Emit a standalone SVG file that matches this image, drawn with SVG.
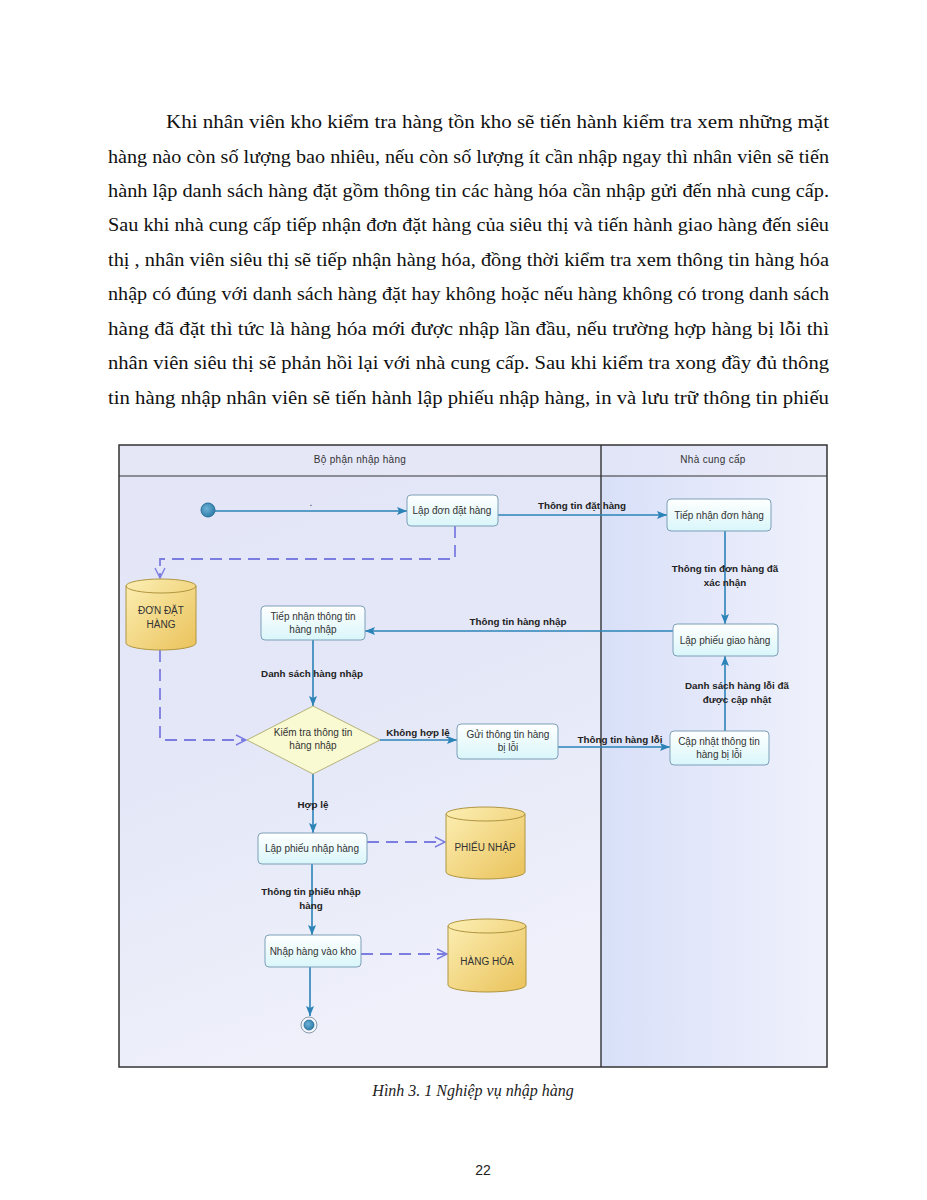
<svg xmlns="http://www.w3.org/2000/svg" width="927" height="1200" viewBox="0 0 927 1200">
<style>
.body{font-family:"Liberation Serif","Times New Roman",serif;font-size:19.5px;fill:#111}
.cap{font-family:"Liberation Serif","Times New Roman",serif;font-size:16px;font-style:italic;fill:#222}
.pg{font-family:"Liberation Sans",Arial,sans-serif;font-size:14px;fill:#222}
.hdr{font-family:"Liberation Sans",Arial,sans-serif;font-size:10px;fill:#333;letter-spacing:0.3px}
.nt{font-family:"Liberation Sans",Arial,sans-serif;font-size:10px;fill:#333;text-anchor:middle}
.lb{font-family:"Liberation Sans",Arial,sans-serif;font-size:9.8px;font-weight:bold;fill:#222;text-anchor:middle}
.box{fill:url(#boxg);stroke:#7d9fb8;stroke-width:1}
.cyl{fill:url(#cylg);stroke:#b09540;stroke-width:1}
.flow{fill:none;stroke:#2b83b8;stroke-width:1.6;marker-end:url(#arr)}
.dep{fill:none;stroke:#7c7de0;stroke-width:1.8;stroke-dasharray:12 7;marker-end:url(#open)}
</style>
<defs>
<linearGradient id="leftg" x1="0" y1="0" x2="0.3" y2="1">
<stop offset="0" stop-color="#e4e6f7"/><stop offset="0.5" stop-color="#e3e7f7"/><stop offset="1" stop-color="#eff0fa"/>
</linearGradient>
<linearGradient id="rightg" x1="0" y1="0" x2="1" y2="0">
<stop offset="0" stop-color="#d8e0f8"/><stop offset="0.5" stop-color="#e4e8fa"/><stop offset="1" stop-color="#eff1fb"/>
</linearGradient>
<linearGradient id="boxg" x1="0" y1="0" x2="0" y2="1">
<stop offset="0" stop-color="#ffffff"/><stop offset="1" stop-color="#d9f6fa"/>
</linearGradient>
<linearGradient id="cylg" x1="0" y1="0" x2="1" y2="1">
<stop offset="0" stop-color="#fcefb4"/><stop offset="1" stop-color="#eac25a"/>
</linearGradient>
<radialGradient id="startg" cx="0.4" cy="0.4" r="0.6">
<stop offset="0" stop-color="#6fb2d6"/><stop offset="1" stop-color="#2f7fab"/>
</radialGradient>
<marker id="arr" markerUnits="userSpaceOnUse" markerWidth="12" markerHeight="10" refX="10" refY="5" orient="auto">
<path d="M0,1 L10,5 L0,9 L2,5 Z" fill="#2b83b8"/>
</marker>
<marker id="open" markerUnits="userSpaceOnUse" markerWidth="12" markerHeight="12" refX="11" refY="6" orient="auto">
<path d="M1,1 L11,6 L1,11" fill="none" stroke="#7c7de0" stroke-width="1.4"/>
</marker>
</defs>
<rect width="927" height="1200" fill="#ffffff"/>
<g id="paragraph">
<text class="body" x="166" y="128" textLength="663" lengthAdjust="spacingAndGlyphs">Khi nhân viên kho kiểm tra hàng tồn kho sẽ tiến hành kiểm tra xem những mặt</text>
<text class="body" x="108" y="163" textLength="721" lengthAdjust="spacingAndGlyphs">hàng nào còn số lượng bao nhiêu, nếu còn số lượng ít cần nhập ngay thì nhân viên sẽ tiến</text>
<text class="body" x="108" y="197" textLength="721" lengthAdjust="spacingAndGlyphs">hành lập danh sách hàng đặt gồm thông tin các hàng hóa cần nhập gửi đến nhà cung cấp.</text>
<text class="body" x="108" y="231" textLength="721" lengthAdjust="spacingAndGlyphs">Sau khi nhà cung cấp tiếp nhận đơn đặt hàng của siêu thị và tiến hành giao hàng đến siêu</text>
<text class="body" x="108" y="266" textLength="721" lengthAdjust="spacingAndGlyphs">thị , nhân viên siêu thị sẽ tiếp nhận hàng hóa, đồng thời kiểm tra xem thông tin hàng hóa</text>
<text class="body" x="108" y="300" textLength="721" lengthAdjust="spacingAndGlyphs">nhập có đúng với danh sách hàng đặt hay không hoặc nếu hàng không có trong danh sách</text>
<text class="body" x="108" y="335" textLength="721" lengthAdjust="spacingAndGlyphs">hàng đã đặt thì tức là hàng hóa mới được nhập lần đầu, nếu trường hợp hàng bị lỗi thì</text>
<text class="body" x="108" y="369" textLength="721" lengthAdjust="spacingAndGlyphs">nhân viên siêu thị sẽ phản hồi lại với nhà cung cấp. Sau khi kiểm tra xong đầy đủ thông</text>
<text class="body" x="108" y="404" textLength="721" lengthAdjust="spacingAndGlyphs">tin hàng nhập nhân viên sẽ tiến hành lập phiếu nhập hàng, in và lưu trữ thông tin phiếu</text>
</g>
<g id="swimlanes">
<rect x="119" y="445" width="482" height="622" fill="url(#leftg)"/>
<rect x="601" y="445" width="226" height="622" fill="url(#rightg)"/>
<rect x="119" y="445" width="708" height="31" fill="#e6e8f7" opacity="0.6"/>
<rect x="119" y="445" width="708" height="622" fill="none" stroke="#333" stroke-width="1.5"/>
<line x1="119" y1="476" x2="827" y2="476" stroke="#333" stroke-width="1.2"/>
<line x1="601" y1="445" x2="601" y2="1067" stroke="#333" stroke-width="1.4"/>
<text class="hdr" x="360" y="463" text-anchor="middle">Bộ phận nhập hàng</text>
<text class="hdr" x="713" y="463" text-anchor="middle">Nhà cung cấp</text>
</g>
<g id="connectors">
<path class="flow" d="M215,511 H407"/>
<text class="nt" x="311" y="506">.</text>
<path class="flow" d="M498,515 H667"/>
<text class="lb" x="582" y="509">Thông tin đặt hàng</text>
<path class="flow" d="M725,531 V624"/>
<text class="lb" x="725" y="572">Thông tin đơn hàng đã</text>
<text class="lb" x="725" y="586">xác nhận</text>
<path class="flow" d="M673,631 H365"/>
<text class="lb" x="518" y="625">Thông tin hàng nhập</text>
<path class="flow" d="M313,640 V706"/>
<text class="lb" x="312" y="677">Danh sách hàng nhập</text>
<path class="flow" d="M380,740 H457"/>
<text class="lb" x="418" y="736">Không hợp lệ</text>
<path class="flow" d="M558,747 H670"/>
<text class="lb" x="620" y="743">Thông tin hàng lỗi</text>
<path class="flow" d="M725,731 V656"/>
<text class="lb" x="737" y="689">Danh sách hàng lỗi đã</text>
<text class="lb" x="737" y="703">được cập nhật</text>
<path class="flow" d="M313,774 V833"/>
<text class="lb" x="313" y="808">Hợp lệ</text>
<path class="flow" d="M312,864 V935"/>
<text class="lb" x="311" y="895">Thông tin phiếu nhập</text>
<text class="lb" x="311" y="909">hàng</text>
<path class="flow" d="M310,967 V1016"/>
<path class="dep" d="M455,526 V559 H160 V578"/>
<path class="dep" d="M160,650 V740 H246"/>
<path class="dep" d="M367,842 H445"/>
<path class="dep" d="M361,954 H447"/>
</g>
<g id="start">
<circle cx="208" cy="510" r="7" fill="url(#startg)" stroke="#2a6f9a" stroke-width="1"/>
</g>
<g id="lap-don-dat-hang">
<rect class="box" x="407" y="495" width="91" height="31" rx="4"/>
<text class="nt" x="452" y="514">Lập đơn đặt hàng</text>
</g>
<g id="tiep-nhan-don-hang">
<rect class="box" x="667" y="499" width="104" height="32" rx="4"/>
<text class="nt" x="719" y="519">Tiếp nhận đơn hàng</text>
</g>
<g id="lap-phieu-giao-hang">
<rect class="box" x="673" y="624" width="105" height="32" rx="4"/>
<text class="nt" x="725" y="644">Lập phiếu giao hàng</text>
</g>
<g id="tiep-nhan-thong-tin">
<rect class="box" x="261" y="606" width="104" height="34" rx="4"/>
<text class="nt" x="313" y="620">Tiếp nhận thông tin</text>
<text class="nt" x="313" y="633">hàng nhập</text>
</g>
<g id="don-dat-hang">
<path class="cyl" d="M126,586 A35,7 0 0 1 196,586 V643 A35,7 0 0 1 126,643 Z"/>
<path d="M126,586 A35,7 0 0 0 196,586" fill="none" stroke="#b09540" stroke-width="1"/>
<text class="nt" x="161" y="614">ĐƠN ĐẶT</text>
<text class="nt" x="161" y="628">HÀNG</text>
</g>
<g id="kiem-tra">
<path d="M313,706 L380,740 L313,774 L247,740 Z" fill="#fafad2" stroke="#b5b27a" stroke-width="1"/>
<text class="nt" x="313" y="736">Kiểm tra thông tin</text>
<text class="nt" x="313" y="749">hàng nhập</text>
</g>
<g id="gui-thong-tin">
<rect class="box" x="457" y="724" width="101" height="35" rx="4"/>
<text class="nt" x="508" y="738">Gửi thông tin hàng</text>
<text class="nt" x="508" y="751">bị lỗi</text>
</g>
<g id="cap-nhat">
<rect class="box" x="670" y="731" width="99" height="34" rx="4"/>
<text class="nt" x="719" y="745">Cập nhật thông tin</text>
<text class="nt" x="719" y="758">hàng bị lỗi</text>
</g>
<g id="lap-phieu-nhap">
<rect class="box" x="258" y="833" width="109" height="31" rx="4"/>
<text class="nt" x="312" y="852">Lập phiếu nhập hàng</text>
</g>
<g id="phieu-nhap">
<path class="cyl" d="M446,814 A39.5,7 0 0 1 525,814 V872 A39.5,7 0 0 1 446,872 Z"/>
<path d="M446,814 A39.5,7 0 0 0 525,814" fill="none" stroke="#b09540" stroke-width="1"/>
<text class="nt" x="485" y="851">PHIẾU NHẬP</text>
</g>
<g id="nhap-hang-vao-kho">
<rect class="box" x="265" y="935" width="96" height="32" rx="4"/>
<text class="nt" x="313" y="955">Nhập hàng vào kho</text>
</g>
<g id="hang-hoa">
<path class="cyl" d="M448,926 A39,7 0 0 1 526,926 V985 A39,7 0 0 1 448,985 Z"/>
<path d="M448,926 A39,7 0 0 0 526,926" fill="none" stroke="#b09540" stroke-width="1"/>
<text class="nt" x="487" y="965">HÀNG HÓA</text>
</g>
<g id="end">
<circle cx="309" cy="1025" r="8" fill="#f4f6fb" stroke="#8a9aa8" stroke-width="1"/>
<circle cx="309" cy="1025" r="5" fill="url(#startg)" stroke="#2a6f9a" stroke-width="0.8"/>
</g>
<g id="caption">
<text class="cap" x="473" y="1096" text-anchor="middle">Hình 3. 1 Nghiệp vụ nhập hàng</text>
<text class="pg" x="483" y="1175" text-anchor="middle">22</text>
</g>
</svg>
